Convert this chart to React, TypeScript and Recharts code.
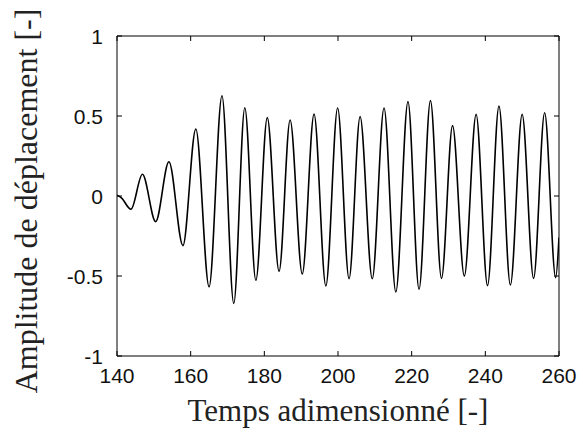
import React from 'react';
import { LineChart, Line, XAxis, YAxis, ReferenceArea } from 'recharts';

// extrema of the displacement signal
const times = [
  140, 141.2, 143.8, 146.9, 150.5, 154.1, 157.9, 161.4, 165.0, 168.5,
  171.7, 174.7, 177.7, 180.8, 184.0, 187.0, 190.3, 193.5, 196.7, 199.9,
  203.0, 206.0, 209.3, 212.5, 215.7, 219.0, 222.0, 225.1, 228.1, 231.1,
  234.3, 237.5, 240.6, 243.7, 246.8, 250.0, 253.1, 256.1, 259.1, 260,
];
const amplitudes = [
  0.005, -0.012, -0.083, 0.136, -0.16, 0.214, -0.31, 0.419, -0.567, 0.627,
  -0.671, 0.552, -0.527, 0.49, -0.47, 0.475, -0.487, 0.512, -0.562, 0.55,
  -0.517, 0.496, -0.517, 0.55, -0.6, 0.59, -0.583, 0.596, -0.515, 0.44,
  -0.5, 0.51, -0.56, 0.562, -0.556, 0.51, -0.515, 0.52, -0.51, -0.26,
];

const xTicks = [140, 160, 180, 200, 220, 240, 260];
const yTicks = [-1, -0.5, 0, 0.5, 1];

const data = times.map((t, i) => ({ t, v: amplitudes[i] }));

const W = 583;
const H = 432;
const PLOT_LEFT = 117;
const PLOT_RIGHT = 559;
const PLOT_TOP = 36;
const PLOT_BOTTOM = 356;
const TICK_LEN = 5;

const tickStyle: React.CSSProperties = {
  fontFamily: "'Liberation Sans', Arial, sans-serif",
  fontSize: 21,
  fill: '#111',
};
const titleStyle: React.CSSProperties = {
  fontFamily: "'Liberation Serif', 'DejaVu Serif', serif",
  fontSize: 31,
  fill: '#222',
};

const XTick = (props: any) => {
  const { x, payload } = props;
  return (
    <g>
      <line x1={x} x2={x} y1={PLOT_BOTTOM} y2={PLOT_BOTTOM - TICK_LEN} stroke="#000" />
      <line x1={x} x2={x} y1={PLOT_TOP} y2={PLOT_TOP + TICK_LEN} stroke="#000" />
      <text x={x} y={PLOT_BOTTOM + 27} textAnchor="middle" style={tickStyle}>
        {payload.value}
      </text>
    </g>
  );
};

const YTick = (props: any) => {
  const { y, payload } = props;
  return (
    <g>
      <line x1={PLOT_LEFT} x2={PLOT_LEFT + TICK_LEN} y1={y} y2={y} stroke="#000" />
      <line x1={PLOT_RIGHT} x2={PLOT_RIGHT - TICK_LEN} y1={y} y2={y} stroke="#000" />
      <text x={PLOT_LEFT - 14} y={y} dy="0.36em" textAnchor="end" style={tickStyle}>
        {payload.value}
      </text>
    </g>
  );
};

export default function App() {
  return (
    <div style={{ position: 'absolute', left: 0, top: 0, width: W, height: H, background: '#fff' }}>
      <LineChart
        width={W}
        height={H}
        data={data}
        margin={{ top: PLOT_TOP, right: W - PLOT_RIGHT, left: 0, bottom: 0 }}
      >
        <XAxis
          dataKey="t"
          type="number"
          domain={[140, 260]}
          ticks={xTicks}
          height={H - PLOT_BOTTOM}
          axisLine={false}
          tickLine={false}
          tick={<XTick />}
          allowDataOverflow
          label={{
            content: () => (
              <text x={(PLOT_LEFT + PLOT_RIGHT) / 2} y={421} textAnchor="middle" style={titleStyle}>
                Temps adimensionné [-]
              </text>
            ),
          }}
        />
        <YAxis
          type="number"
          domain={[-1, 1]}
          ticks={yTicks}
          width={PLOT_LEFT}
          axisLine={false}
          tickLine={false}
          tick={<YTick />}
          allowDataOverflow
          label={{
            content: () => (
              <text
                transform={`translate(37, ${(PLOT_TOP + PLOT_BOTTOM) / 2 + 5}) rotate(-90)`}
                textAnchor="middle"
                style={{ ...titleStyle, fontSize: 32 }}
              >
                Amplitude de déplacement [-]
              </text>
            ),
          }}
        />
        <ReferenceArea
          x1={140}
          x2={260}
          y1={-1}
          y2={1}
          fill="none"
          fillOpacity={0}
          stroke="#000"
          strokeWidth={1}
          ifOverflow="visible"
        />
        <Line
          type="monotone"
          dataKey="v"
          stroke="#000"
          strokeWidth={1.6}
          dot={false}
          isAnimationActive={false}
        />
      </LineChart>
    </div>
  );
}
